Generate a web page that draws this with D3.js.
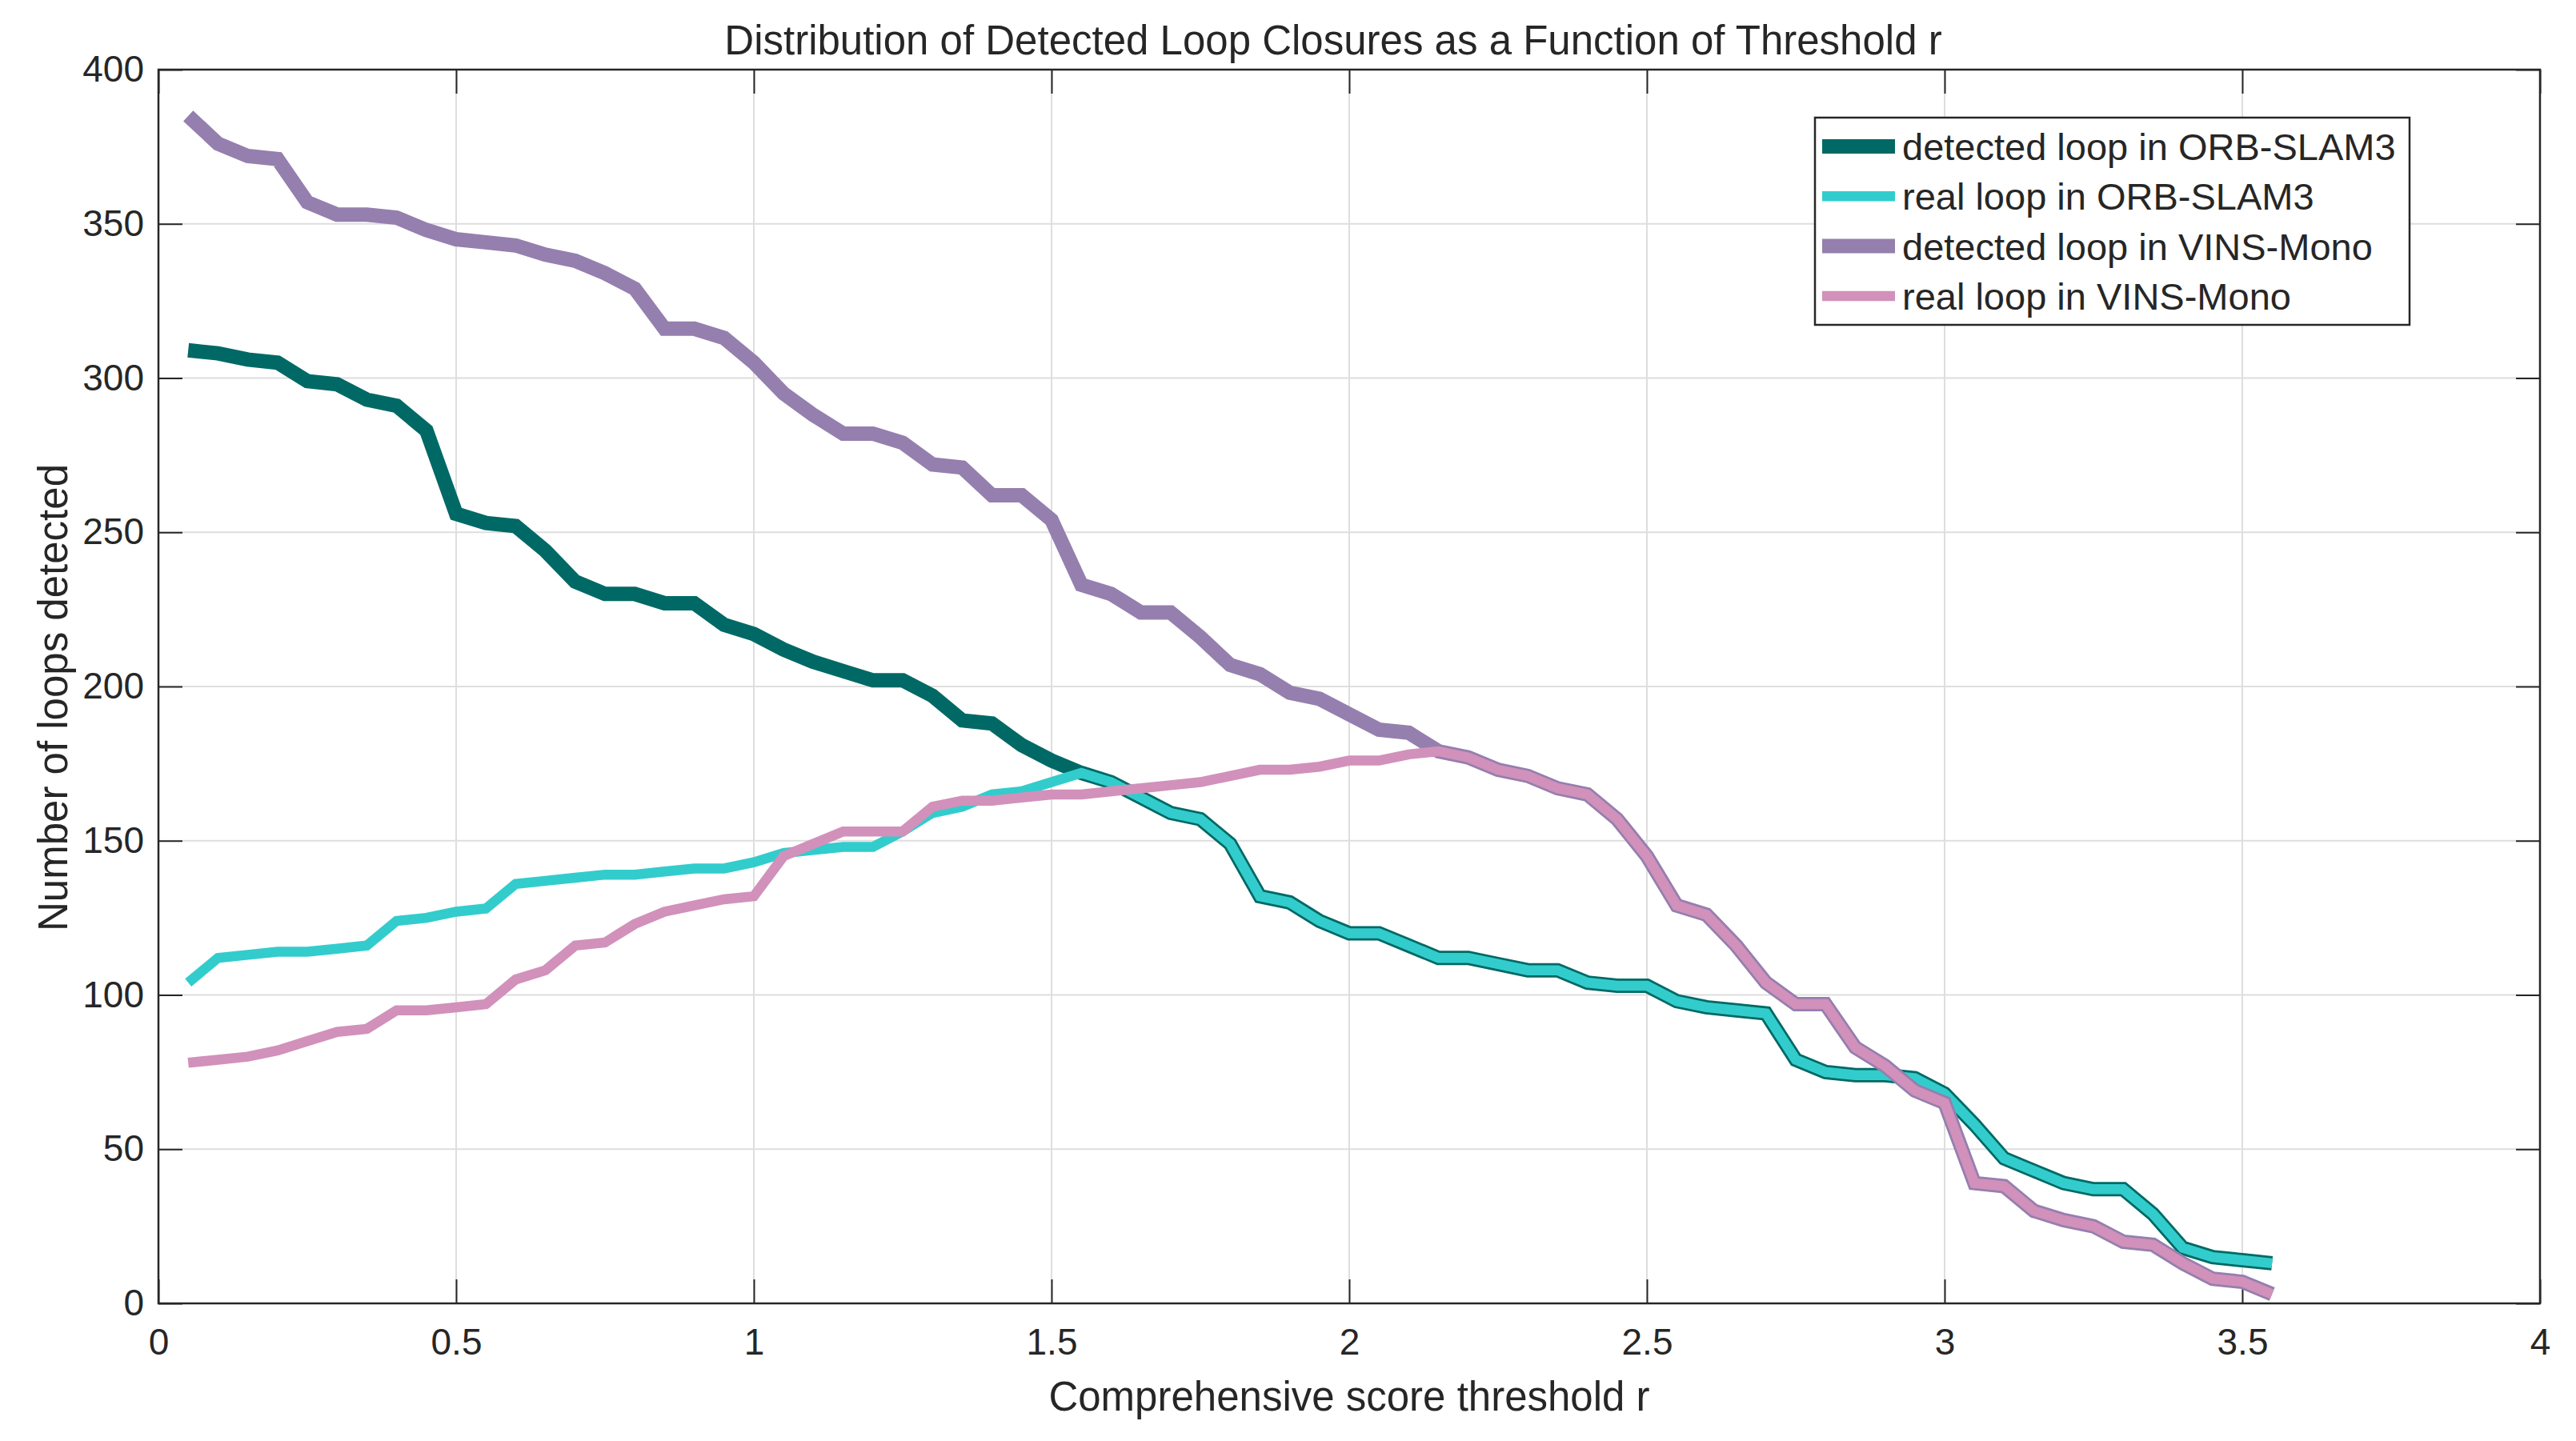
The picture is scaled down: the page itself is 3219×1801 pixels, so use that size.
<!DOCTYPE html>
<html>
<head>
<meta charset="utf-8">
<script src="https://cdn.jsdelivr.net/npm/d3@7/dist/d3.min.js"></script>
<style>
    body { margin: 0; background: #ffffff; }
    text { font-family: "Liberation Sans", Arial, Helvetica, sans-serif; fill: #262626; }
</style>
</head>
<body>
<div id="chart"></div>
<script>
// Threshold r values (x axis)
let thresholds = [0.05, 0.10, 0.15, 0.20, 0.25, 0.30, 0.35, 0.40, 0.45, 0.50,
                  0.55, 0.60, 0.65, 0.70, 0.75, 0.80, 0.85, 0.90, 0.95, 1.00,
                  1.05, 1.10, 1.15, 1.20, 1.25, 1.30, 1.35, 1.40, 1.45, 1.50,
                  1.55, 1.60, 1.65, 1.70, 1.75, 1.80, 1.85, 1.90, 1.95, 2.00,
                  2.05, 2.10, 2.15, 2.20, 2.25, 2.30, 2.35, 2.40, 2.45, 2.50,
                  2.55, 2.60, 2.65, 2.70, 2.75, 2.80, 2.85, 2.90, 2.95, 3.00,
                  3.05, 3.10, 3.15, 3.20, 3.25, 3.30, 3.35, 3.40, 3.45, 3.50,
                  3.55];

// Series values
let orbDetected = [309, 308, 306, 305, 299, 298, 293, 291, 283, 256,
                   253, 252, 244, 234, 230, 230, 227, 227, 220, 217,
                   212, 208, 205, 202, 202, 197, 189, 188, 181, 176,
                   172, 169, 164, 159, 157, 149, 132, 130, 124, 120,
                   120, 116, 112, 112, 110, 108, 108, 104, 103, 103,
                   98, 96, 95, 94, 79, 75, 74, 74, 73, 68,
                   58, 47, 43, 39, 37, 37, 29, 18, 15, 14,
                   13];
let orbReal = [104, 112, 113, 114, 114, 115, 116, 124, 125, 127,
               128, 136, 137, 138, 139, 139, 140, 141, 141, 143,
               146, 147, 148, 148, 153, 159, 161, 165, 166, 169,
               172, 169, 164, 159, 157, 149, 132, 130, 124, 120,
               120, 116, 112, 112, 110, 108, 108, 104, 103, 103,
               98, 96, 95, 94, 79, 75, 74, 74, 73, 68,
               58, 47, 43, 39, 37, 37, 29, 18, 15, 14,
               13];
let vinsDetected = [385, 376, 372, 371, 357, 353, 353, 352, 348, 345,
                    344, 343, 340, 338, 334, 329, 316, 316, 313, 305,
                    295, 288, 282, 282, 279, 272, 271, 262, 262, 254,
                    233, 230, 224, 224, 216, 207, 204, 198, 196, 191,
                    186, 185, 179, 177, 173, 171, 167, 165, 157, 145,
                    129, 126, 116, 104, 97, 97, 83, 77, 69, 65,
                    39, 38, 30, 27, 25, 20, 19, 13, 8, 7,
                    3];
let vinsReal = [78, 79, 80, 82, 85, 88, 89, 95, 95, 96,
                97, 105, 108, 116, 117, 123, 127, 129, 131, 132,
                145, 149, 153, 153, 153, 161, 163, 163, 164, 165,
                165, 166, 167, 168, 169, 171, 173, 173, 174, 176,
                176, 178, 179, 177, 173, 171, 167, 165, 157, 145,
                129, 126, 116, 104, 97, 97, 83, 77, 69, 65,
                39, 38, 30, 27, 25, 20, 19, 13, 8, 7,
                3];

// Legend names, colours and line widths (plot order)
let seriesNames = ["detected loop in ORB-SLAM3", "real loop in ORB-SLAM3",
                   "detected loop in VINS-Mono", "real loop in VINS-Mono"];
let seriesColors = ["#016965", "#33cccc", "#957fae", "#d191bb"];
let seriesWidths = [18, 12.5, 18, 12.5];

// Tick values and labels
let xTicks = [0, 0.5, 1, 1.5, 2, 2.5, 3, 3.5, 4];
let xTickLabels = ["0", "0.5", "1", "1.5", "2", "2.5", "3", "3.5", "4"];
let yTicks = [0, 50, 100, 150, 200, 250, 300, 350, 400];
let yTickLabels = ["0", "50", "100", "150", "200", "250", "300", "350", "400"];

let titleText = "Distribution of Detected Loop Closures as a Function of Threshold r";
let xLabelText = "Comprehensive score threshold r";
let yLabelText = "Number of loops detected";

// Set up width, height and margin
let width = 3219,
    height = 1801;
let margin = {top: 87, right: 45, bottom: 172, left: 198};
let plotW = width - margin.left - margin.right,
    plotH = height - margin.top - margin.bottom;

let svg = d3.select("#chart")
    .append("svg")
    .attr("width", width)
    .attr("height", height)
    .append("g")
    .attr("transform", `translate(${margin.left}, ${margin.top})`);

let x = d3.scaleLinear().domain([0, 4]).range([0, plotW]);
let y = d3.scaleLinear().domain([0, 400]).range([plotH, 0]);

// Grid lines
svg.append("g")
    .selectAll("line")
    .data(xTicks)
    .enter()
    .append("line")
    .attr("x1", d => x(d)).attr("x2", d => x(d))
    .attr("y1", 0).attr("y2", plotH)
    .attr("stroke", "#dedede")
    .attr("stroke-width", 2);
svg.append("g")
    .selectAll("line")
    .data(yTicks)
    .enter()
    .append("line")
    .attr("x1", 0).attr("x2", plotW)
    .attr("y1", d => y(d)).attr("y2", d => y(d))
    .attr("stroke", "#dedede")
    .attr("stroke-width", 2);

// Axes (ticks point inward, like matlab)
function styleAxis(g) {
    g.select(".domain").remove();
    g.selectAll(".tick line").attr("stroke", "#262626").attr("stroke-width", 2);
    g.selectAll(".tick text")
        .style("font-family", '"Liberation Sans", Arial, sans-serif')
        .style("font-size", "46px")
        .attr("fill", "#262626");
}

svg.append("g")
    .attr("transform", `translate(0, ${plotH})`)
    .call(d3.axisBottom(x).tickValues(xTicks)
        .tickFormat((d, i) => xTickLabels[i])
        .tickSizeInner(-30).tickSizeOuter(0).tickPadding(31))
    .call(styleAxis);

svg.append("g")
    .call(d3.axisLeft(y).tickValues(yTicks)
        .tickFormat((d, i) => yTickLabels[i])
        .tickSizeInner(-30).tickSizeOuter(0).tickPadding(18))
    .call(styleAxis);

svg.append("g")
    .call(d3.axisTop(x).tickValues(xTicks).tickFormat("")
        .tickSizeInner(-30).tickSizeOuter(0))
    .call(styleAxis);

svg.append("g")
    .attr("transform", `translate(${plotW}, 0)`)
    .call(d3.axisRight(y).tickValues(yTicks).tickFormat("")
        .tickSizeInner(-30).tickSizeOuter(0))
    .call(styleAxis);

// Axes box
svg.append("rect")
    .attr("x", 0).attr("y", 0)
    .attr("width", plotW).attr("height", plotH)
    .attr("fill", "none")
    .attr("stroke", "#262626")
    .attr("stroke-width", 2.5);

// Lines
let allSeries = [orbDetected, orbReal, vinsDetected, vinsReal];
let line = d3.line()
    .x((d, i) => x(thresholds[i]))
    .y(d => y(d));

svg.append("g")
    .selectAll("path")
    .data(allSeries)
    .enter()
    .append("path")
    .attr("d", d => line(d))
    .attr("fill", "none")
    .attr("stroke", (d, i) => seriesColors[i])
    .attr("stroke-width", (d, i) => seriesWidths[i])
    .attr("stroke-linejoin", "miter")
    .attr("stroke-miterlimit", 4)
    .attr("stroke-linecap", "butt");

// Title and axis labels
svg.append("text")
    .attr("x", plotW / 2 - 20)
    .attr("y", -19)
    .style("text-anchor", "middle")
    .style("font-size", "51px")
    .attr("fill", "#000000")
    .text(titleText);

svg.append("text")
    .attr("x", plotW / 2)
    .attr("y", plotH + 134)
    .style("text-anchor", "middle")
    .style("font-size", "51px")
    .text(xLabelText);

svg.append("text")
    .attr("transform", `translate(${84 - margin.left}, ${plotH / 2 + 14}) rotate(-90)`)
    .style("text-anchor", "middle")
    .style("font-size", "51px")
    .text(yLabelText);

// Legend
let legend = svg.append("g")
    .attr("transform", `translate(${2268 - margin.left}, ${147 - margin.top})`);

legend.append("rect")
    .attr("width", 743).attr("height", 259)
    .attr("fill", "#ffffff")
    .attr("stroke", "#262626")
    .attr("stroke-width", 2.5);

let rows = legend.selectAll("g.row")
    .data(seriesNames)
    .enter()
    .append("g")
    .attr("class", "row")
    .attr("transform", (d, i) => `translate(0, ${36 + i * 62.3})`);

rows.append("line")
    .attr("x1", 9).attr("x2", 100)
    .attr("y1", 0).attr("y2", 0)
    .attr("stroke", (d, i) => seriesColors[i])
    .attr("stroke-width", (d, i) => seriesWidths[i]);

rows.append("text")
    .attr("x", 109)
    .attr("y", 17)
    .style("font-size", "47px")
    .attr("fill", "#000000")
    .text(d => d);
</script>
</body>
</html>
